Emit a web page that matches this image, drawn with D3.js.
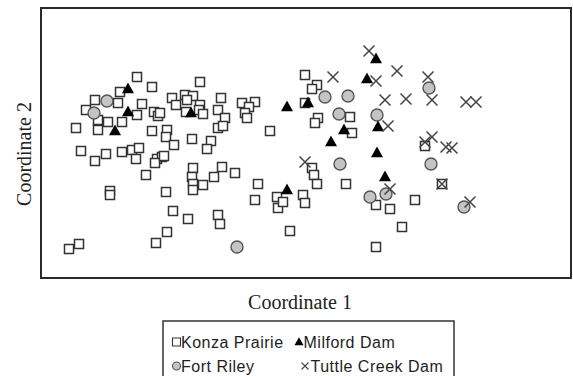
<!DOCTYPE html>
<html>
<head>
<meta charset="utf-8">
<script src="https://cdn.jsdelivr.net/npm/d3@7"></script>
<style>
  body { margin: 0; background: #fff; }
  svg { display: block; }
  .axisTitle { font-family: "Liberation Serif", "Times New Roman", serif; font-size: 20px; fill: #222; }
  .legText { font-family: "Liberation Sans", Arial, sans-serif; font-size: 16px; letter-spacing: 0.5px; fill: #1e1e1e; }
</style>
</head>
<body>
<div id="chart"></div>
<script>
// NMDS-style ordination, coordinates

var konza = [
  [-1.69, 0.66], [-1.54, 0.56], [-1.86, 0.51], [-2.11, 0.43], [-1.88, 0.40],
  [-2.20, 0.33], [-1.64, 0.39], [-1.69, 0.28], [-1.52, 0.31], [-1.48, 0.27],
  [-2.08, 0.23], [-1.98, 0.21], [-1.84, 0.21], [-2.30, 0.15], [-2.08, 0.13],
  [-1.54, 0.12], [-1.39, 0.13], [-1.40, 0.06], [-1.32, -0.02], [-2.25, -0.08],
  [-2.11, -0.18], [-2.00, -0.11], [-1.84, -0.09], [-1.74, -0.07], [-1.67, -0.05],
  [-1.70, -0.16], [-1.49, -0.16], [-1.44, -0.14], [-1.51, -0.20], [-1.60, -0.32],
  [-1.96, -0.48], [-1.96, -0.52], [-1.40, -0.49], [-1.33, -0.68], [-1.18, -0.76],
  [-1.39, -0.89], [-1.50, -1.00], [-2.27, -1.01], [-2.37, -1.06],
  [-1.06, 0.61], [-1.34, 0.45], [-1.21, 0.48], [-1.13, 0.47], [-1.30, 0.38],
  [-1.19, 0.43], [-1.06, 0.38], [-1.20, 0.31], [-1.07, 0.33], [-1.03, 0.29],
  [-1.46, 0.30], [-0.85, 0.45], [-0.88, 0.33], [-0.81, 0.25], [-0.88, 0.15],
  [-0.83, 0.17], [-0.64, 0.40], [-0.51, 0.41], [-0.57, 0.36], [-0.61, 0.30],
  [-0.59, 0.25], [-0.36, 0.12], [-1.14, 0.04], [-0.95, 0.02], [-0.99, -0.06],
  [-1.42, -0.13], [-1.13, -0.25], [-1.14, -0.34], [-1.13, -0.41], [-1.13, -0.47],
  [-1.03, -0.42], [-0.92, -0.34], [-0.84, -0.24], [-0.71, -0.30], [-0.48, -0.41],
  [-0.51, -0.57], [-0.29, -0.54], [-0.28, -0.65], [-0.23, -0.59], [-0.88, -0.72],
  [-0.86, -0.81], [-0.16, -0.88],
  [-0.01, 0.68], [0.11, 0.58], [0.06, 0.54], [-0.01, 0.40], [0.12, 0.25],
  [0.09, 0.20], [0.44, 0.26], [0.46, 0.10], [0.06, -0.25], [0.08, -0.32],
  [0.11, -0.41], [0.40, -0.41], [-0.03, -0.52], [-0.01, -0.60], [0.70, -0.62],
  [0.84, -0.66], [1.09, -0.57], [0.96, -0.84], [0.70, -1.04], [1.19, -0.03],
  [1.36, -0.41]
];

var fortRiley = [
  [-1.99, 0.42], [-2.12, 0.30], [0.19, 0.46], [0.42, 0.47], [0.33, 0.29],
  [0.71, 0.28], [0.34, -0.21], [0.64, -0.54], [0.80, -0.51], [1.23, 0.55],
  [1.25, -0.21], [1.58, -0.64], [-0.69, -1.04]
];

var milford = [
  [-1.78, 0.54], [-1.78, 0.31], [-1.91, 0.12], [-1.15, 0.30], [-0.19, 0.36],
  [0.02, 0.40], [0.70, 0.84], [0.61, 0.64], [0.38, 0.13], [0.25, 0.01],
  [0.72, 0.16], [0.71, -0.10], [0.79, -0.34], [-0.19, -0.47]
];

var tuttle = [
  [0.63, 0.92], [0.27, 0.66], [0.70, 0.62], [0.91, 0.72], [1.22, 0.66],
  [0.79, 0.43], [1.00, 0.44], [1.26, 0.43], [1.60, 0.41], [1.70, 0.41],
  [0.82, 0.17], [-0.01, -0.19], [0.84, -0.46], [1.26, 0.06], [1.19, 0.01],
  [1.40, -0.04], [1.46, -0.05], [1.36, -0.41], [1.64, -0.59]
];

var legendRows = [
  ["Konza Prairie", "square"], ["Milford Dam", "triangle"],
  ["Fort Riley", "circle"], ["Tuttle Creek Dam", "cross"]
];

var width = 573;
var height = 376;

// plot box
var box = { left: 41, right: 571, top: 8, bottom: 278 };

var svg = d3.select("#chart")
  .append("svg")
  .attr("width", width)
  .attr("height", height);

var xScale = d3.scaleLinear().domain([-2.65, 2.65]).range([box.left, box.right]);
var yScale = d3.scaleLinear().domain([-1.35, 1.35]).range([box.bottom, box.top]);

// marker path makers
function squarePath(s) {
  return "M" + (-s / 2) + "," + (-s / 2) + "h" + s + "v" + s + "h" + (-s) + "Z";
}
function triPath(s) {
  var h = s * 0.9;
  return "M0," + (-h * 0.6) + "L" + (s / 2) + "," + (h * 0.4) + "L" + (-s / 2) + "," + (h * 0.4) + "Z";
}
function crossPath(s) {
  var a = s / 2;
  return "M" + (-a) + "," + (-a) + "L" + a + "," + a + "M" + a + "," + (-a) + "L" + (-a) + "," + a;
}

function drawMarker(g, type, size, sw) {
  if (type === "square") {
    g.append("path").attr("d", squarePath(size))
      .attr("fill", "#fff").attr("stroke", "#333").attr("stroke-width", sw || 1.5);
  } else if (type === "circle") {
    g.append("circle").attr("r", size / 2)
      .attr("fill", "#c4c4c4").attr("stroke", "#555").attr("stroke-width", sw || 1.4);
  } else if (type === "triangle") {
    g.append("path").attr("d", triPath(size)).attr("fill", "#000");
  } else {
    g.append("path").attr("d", crossPath(size))
      .attr("stroke", "#444").attr("stroke-width", sw || 1.5).attr("fill", "none");
  }
}

var pts = svg.append("g").attr("class", "points");

function plotSeries(data, type, size) {
  data.forEach(function(d) {
    var g = pts.append("g")
      .attr("transform", "translate(" + xScale(d[0]) + "," + yScale(d[1]) + ")");
    drawMarker(g, type, size);
  });
}

plotSeries(konza, "square", 9);
plotSeries(fortRiley, "circle", 12);
plotSeries(milford, "triangle", 12);
plotSeries(tuttle, "cross", 11);

// frame
svg.append("rect")
  .attr("x", box.left)
  .attr("y", box.top)
  .attr("width", box.right - box.left)
  .attr("height", box.bottom - box.top)
  .attr("fill", "none")
  .attr("stroke", "#2a2a2a")
  .attr("stroke-width", 2);

// axis titles
svg.append("text")
  .attr("class", "axisTitle")
  .attr("x", 300)
  .attr("y", 309)
  .attr("text-anchor", "middle")
  .text("Coordinate 1");

svg.append("text")
  .attr("class", "axisTitle")
  .attr("transform", "translate(31,154) rotate(-90)")
  .attr("text-anchor", "middle")
  .text("Coordinate 2");

// legend
var leg = svg.append("g").attr("class", "legend");
leg.append("rect")
  .attr("x", 163).attr("y", 321)
  .attr("width", 291).attr("height", 60)
  .attr("fill", "#fff").attr("stroke", "#333").attr("stroke-width", 1.5);

var legX = [176.5, 299];
var legY = [342, 366];
legendRows.forEach(function(r, i) {
  var x = legX[i % 2];
  var y = legY[Math.floor(i / 2)];
  if (r[1] === "cross") x = 305;
  var g = leg.append("g").attr("transform", "translate(" + x + "," + y + ")");
  drawMarker(g, r[1], r[1] === "triangle" ? 9 : (r[1] === "cross" ? 7 : 8), 1.1);
  leg.append("text")
    .attr("class", "legText")
    .attr("x", r[1] === "cross" ? x + 5.5 : x + 4.5)
    .attr("y", y + 5.5)
    .text(r[0]);
});
</script>
</body>
</html>
